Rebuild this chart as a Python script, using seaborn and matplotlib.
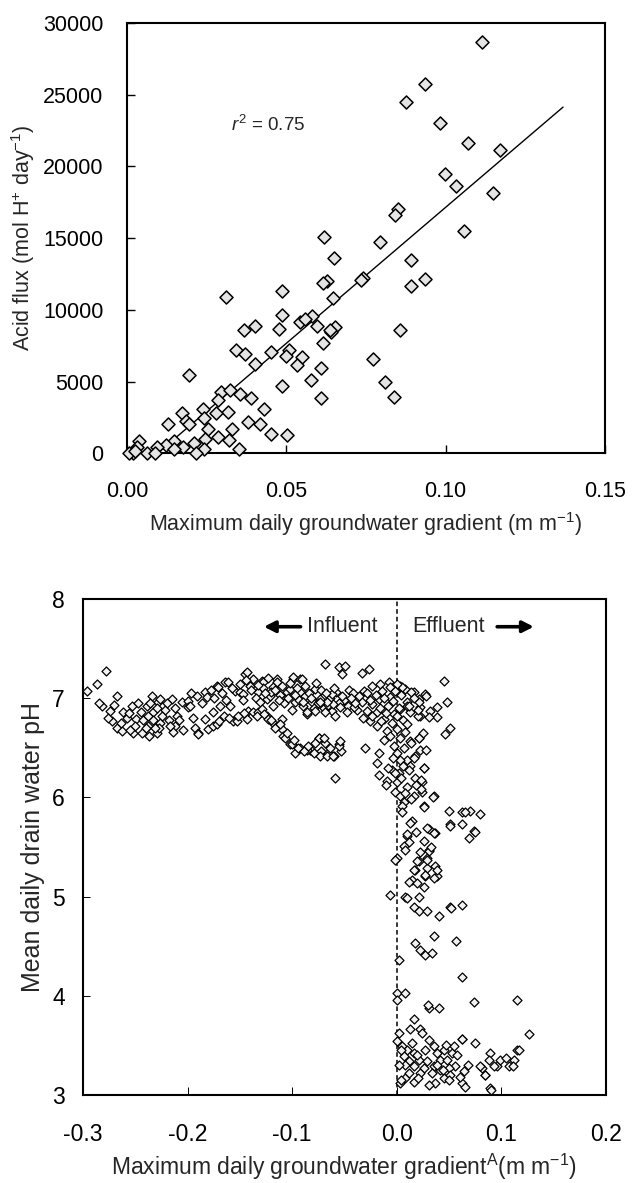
import matplotlib
matplotlib.use("Agg")
import matplotlib.pyplot as plt
import seaborn as sns
import numpy as np
import pandas as pd

# ---------------- data: top panel ----------------
flux_grad = [0.1114, 0.0934, 0.0877, 0.0982, 0.1070, 0.1172, 0.0999, 0.1032, 0.1148, 0.0852,
             0.0842, 0.1057, 0.0618, 0.0794, 0.0649, 0.0890, 0.0741, 0.0734, 0.0937, 0.0629,
             0.0614, 0.0890, 0.0310, 0.0487, 0.0648, 0.0487, 0.0580, 0.0544, 0.0595, 0.0652,
             0.0639, 0.0478, 0.0367, 0.0401, 0.0858, 0.0614, 0.0342, 0.0370, 0.0453, 0.0510,
             0.0500, 0.0548, 0.0772, 0.0401, 0.0534, 0.0610, 0.0194, 0.0576, 0.0810, 0.0487,
             0.0295, 0.0323, 0.0354, 0.0389, 0.0610, 0.0838, 0.0285, 0.0430, 0.0238, 0.0316,
             0.0278, 0.0171, 0.0241, 0.0186, 0.0196, 0.0130, 0.0380, 0.0418, 0.0253, 0.0329,
             0.0452, 0.0503, 0.0285, 0.0244, 0.0320, 0.0038, 0.0148, 0.0211, 0.0123, 0.0095,
             0.0177, 0.0241, 0.0352, 0.0146, 0.0032, 0.0063, 0.0019, 0.0006, 0.0089, 0.0218,
             0.0025, 0.0637, 0.0560]
flux_val = [28630, 25760, 24460, 23020, 21650, 21150, 19480, 18600, 18150, 17030,
            16580, 15490, 15090, 14760, 13620, 13490, 12220, 12095, 12120, 12045,
            11845, 11670, 10870, 11300, 10800, 9630, 9550, 9130, 8850, 8800,
            8480, 8680, 8630, 8850, 8630, 7680, 7180, 6930, 7060, 7230,
            6810, 6730, 6560, 6260, 6140, 5935, 5490, 5140, 4990, 4690,
            4265, 4440, 4115, 3865, 3890, 3940, 3690, 3120, 3070, 2890,
            2820, 2820, 2440, 2240, 2020, 2070, 2195, 2070, 1700, 1700,
            1370, 1250, 1150, 1000, 950, 900, 900, 700, 575, 450,
            450, 300, 300, 325, 450, 0, 0, 0, 0, 0,
            150, 8600, 9350]
fit_x = [0.0095, 0.1369]
fit_y = [0, 24125]
r2_label = r"$\mathit{r}^{2}$ = 0.75"

# ---------------- data: bottom panel ----------------
# far-left cluster (influent)
left_x = [-0.2960, -0.2869, -0.2780, -0.2821, -0.2742, -0.2678, -0.2725, -0.2678, -0.2614, -0.2630,
          -0.2534, -0.2519, -0.2493, -0.2438, -0.2390, -0.2375, -0.2343, -0.2327, -0.2279, -0.2366,
          -0.2295, -0.2263, -0.2151, -0.2103, -0.2056, -0.2120, -0.2263, -0.258, -0.245, -0.240,
          -0.222, -0.218, -0.250, -0.233, -0.214, -0.227,
          -0.285, -0.276, -0.270, -0.264, -0.256, -0.255, -0.247, -0.243, -0.238, -0.236,
          -0.231, -0.229, -0.224, -0.220, -0.217, -0.212, -0.208, -0.204, -0.200, -0.195, -0.193]
left_ph = [7.07, 7.14, 7.27, 6.92, 6.87, 7.02, 6.77, 6.70, 6.86, 6.67,
           6.92, 6.65, 6.79, 6.65, 6.92, 6.72, 7.02, 6.86, 6.96, 6.62,
           6.65, 6.75, 6.99, 6.82, 6.96, 6.72, 6.99, 6.80, 6.86, 6.70,
           6.88, 6.78, 6.72, 6.78, 6.66, 6.70,
           6.95, 6.80, 6.93, 6.75, 6.85, 6.68, 6.95, 6.78, 6.82, 6.95,
           6.70, 6.90, 6.82, 6.95, 6.72, 6.90, 6.78, 6.68, 6.97, 6.80, 6.70]
# upper band (influent)
upper_x = [-0.1992, -0.1976, -0.1912, -0.1833, -0.1816, -0.1721, -0.1705, -0.1689, -0.1641, -0.1610,
           -0.1593, -0.1545, -0.1498, -0.1466, -0.1450, -0.1433, -0.1370, -0.1322, -0.1290, -0.1275,
           -0.1242, -0.1211, -0.1179, -0.1146, -0.1146, -0.1067, -0.1051, -0.1019, -0.0988, -0.0988,
           -0.0971, -0.0923, -0.0923, -0.0876, -0.0809, -0.0780, -0.0732, -0.0684, -0.0656, -0.0557,
           -0.0493, -0.0524, -0.0333, -0.0263, -0.140, -0.135, -0.128, -0.120, -0.112, -0.108,
           -0.095, -0.090, -0.084, -0.079, -0.072, -0.064, -0.058, -0.050, -0.046, -0.070,
           -0.062, -0.118, -0.100, -0.086, -0.0907, -0.0620,
           -0.197, -0.186, -0.178, -0.175, -0.167, -0.163, -0.158, -0.150, -0.147, -0.144,
           -0.139, -0.133, -0.131, -0.126, -0.123, -0.116, -0.113, -0.110, -0.104, -0.102,
           -0.097, -0.093, -0.088, -0.082, -0.077, -0.075, -0.068, -0.066, -0.060, -0.055,
           -0.052, -0.047, -0.042, -0.038]
upper_ph = [6.91, 6.92, 7.02, 7.06, 7.01, 7.12, 7.11, 6.92, 7.16, 7.16,
            6.92, 7.07, 7.06, 7.04, 7.24, 7.26, 7.19, 7.06, 7.17, 7.16,
            6.99, 7.02, 7.11, 7.19, 7.16, 6.99, 7.06, 7.09, 7.19, 7.21,
            6.96, 7.19, 7.06, 7.02, 6.96, 7.09, 6.99, 7.34, 6.92, 7.31,
            7.32, 7.24, 7.25, 7.29, 7.12, 7.00, 7.10, 7.06, 7.03, 6.95,
            7.10, 6.92, 7.05, 6.90, 7.08, 7.00, 7.06, 6.98, 7.08, 6.90,
            6.87, 6.92, 6.88, 6.84, 7.19, 7.04,
            7.05, 6.95, 7.08, 7.00, 7.05, 6.98, 7.10, 7.14, 6.98, 7.18,
            7.08, 7.13, 6.96, 7.05, 7.20, 7.08, 6.98, 7.12, 7.00, 7.15,
            7.03, 6.98, 7.12, 7.00, 7.15, 6.95, 7.05, 6.93, 7.10, 6.95,
            7.02, 6.92, 7.05, 6.88]
# lower band (influent)
lower_x = [-0.1897, -0.1897, -0.1801, -0.1833, -0.1753, -0.1753, -0.1721, -0.1562, -0.1529, -0.1514,
           -0.1433, -0.1418, -0.1370, -0.1322, -0.1290, -0.1242, -0.1227, -0.1179, -0.1146, -0.1099,
           -0.1099, -0.1083, -0.1067, -0.1019, -0.1003, -0.0971, -0.0923, -0.0828, -0.0748, -0.0684,
           -0.0668, -0.0809, -0.0726, -0.0661, -0.0598, -0.0548, -0.0531, -0.0743, -0.0859, -0.0796,
           -0.0732, -0.0668, -0.0605, -0.0557, -0.0541, -0.0700, -0.0589,
           -0.170, -0.165, -0.160, -0.146, -0.134, -0.127, -0.120, -0.116, -0.112, -0.105,
           -0.098, -0.094, -0.089, -0.085, -0.078, -0.064]
lower_ph = [6.65, 6.64, 6.69, 6.79, 6.86, 6.72, 6.74, 6.77, 6.77, 6.82,
            6.79, 6.87, 6.86, 6.86, 6.89, 6.82, 6.79, 6.75, 6.72, 6.79,
            6.69, 6.62, 6.60, 6.54, 6.54, 6.45, 6.50, 6.48, 6.60, 6.55,
            6.43, 6.47, 6.47, 6.45, 6.42, 6.54, 6.47, 6.60, 6.48, 6.45,
            6.42, 6.42, 6.42, 6.52, 6.57, 6.60, 6.20,
            6.77, 6.82, 6.80, 6.85, 6.82, 6.84, 6.78, 6.70, 6.74, 6.65,
            6.58, 6.50, 6.47, 6.52, 6.55, 6.50]
# dense cluster around zero gradient
zero_x = [-0.0318, -0.0237, -0.0158, -0.0078, -0.0142, -0.0062, 0.0033, 0.0081, 0.0161, 0.0273,
          0.0448, 0.0480, 0.0512, 0.0464, 0.0385, 0.0321, 0.0225, 0.0385, 0.0305, 0.0225,
          0.0129, 0.0209, 0.0098, 0.0033, -0.0031, -0.0062, -0.0174, -0.0237, -0.0285, -0.0333,
          -0.0413, -0.0477, -0.0541, -0.0605, -0.0668, -0.0732, -0.0780, -0.0859, -0.0892, -0.0684,
          -0.0589, -0.0189, -0.0126, -0.0189, -0.0254, -0.0301, -0.0094, 0.0002, 0.0033, -0.0031,
          0.0065, 0.0129, 0.0209, 0.0225, 0.0177, 0.0098, 0.0033, -0.0174, -0.0189, -0.0174,
          -0.0094, -0.0046, 0.0018, 0.0002, -0.0014, 0.0033, 0.0065, 0.0129, 0.0177, 0.0257,
          0.0241, 0.0161, 0.0241, 0.0257, 0.0352, 0.0280, 0.0215, 0.0134, 0.0053, 0.0004,
          0.0101, 0.0199, 0.0248, 0.0215, 0.0280, 0.0263, 0.0232, 0.0232, 0.0344, 0.0263,
          0.0134, 0.0053, -0.036, -0.028, -0.020, -0.012, -0.004, 0.004, 0.012, -0.008,
          -0.016, -0.024, -0.032, -0.040, -0.044, -0.010, 0.000, 0.006, -0.005, -0.015,
          0.010, 0.002, -0.026, -0.002, 0.016, 0.020, 0.008, -0.006, 0.014, -0.012,
          0.000, 0.006, -0.004, 0.012, -0.008, 0.004, 0.010, -0.002, 0.016, 0.018,
          0.008, -0.010]
zero_ph = [7.07, 7.12, 7.14, 7.16, 7.07, 7.11, 7.12, 7.09, 7.06, 7.04,
           7.17, 6.96, 6.70, 6.64, 6.91, 6.87, 6.91, 6.81, 6.81, 6.82,
           6.86, 6.99, 6.96, 6.89, 6.84, 7.01, 6.99, 6.94, 6.87, 6.96,
           6.91, 6.86, 6.91, 6.94, 6.96, 6.96, 6.87, 6.86, 6.96, 6.86,
           6.82, 6.86, 6.79, 6.72, 6.77, 6.50, 6.67, 6.69, 6.60, 6.52,
           6.50, 6.57, 6.60, 6.48, 6.42, 6.38, 6.38, 6.45, 6.35, 6.23,
           6.16, 6.28, 6.25, 6.15, 6.05, 6.01, 5.95, 6.32, 6.20, 6.30,
           6.15, 6.01, 6.05, 5.91, 6.01, 7.02, 6.96, 7.06, 7.11, 7.14,
           6.92, 6.82, 6.65, 6.60, 6.48, 6.30, 6.18, 6.08, 6.00, 5.90,
           5.98, 5.91, 7.02, 7.05, 7.03, 7.00, 6.97, 7.03, 6.92, 6.92,
           6.90, 6.82, 6.80, 6.95, 7.00, 6.85, 6.82, 6.78, 6.75, 6.77,
           6.74, 6.90, 6.98, 7.07, 7.00, 6.88, 6.66, 6.62, 6.55, 6.58,
           6.45, 6.32, 6.40, 6.28, 6.30, 6.20, 6.10, 6.25, 6.40, 6.12,
           6.04, 6.12]
# effluent scatter, pH 3.9 - 5.9
mid_x = [0.0145, 0.0496, 0.0624, 0.0703, 0.0512, 0.0624, 0.0735, 0.0687, 0.0098, 0.0065,
         0.0305, 0.0368, 0.0305, 0.0209, 0.0177, 0.0145, 0.0289, 0.0289, 0.0368, 0.0385,
         0.0273, 0.0002, -0.0062, 0.0081, 0.0129, 0.0289, 0.0352, 0.0098, 0.0081, 0.0257,
         0.0305, -0.0014, 0.0289, 0.0193, 0.0161, 0.0113, 0.0193, 0.0273, 0.0385, 0.0352,
         0.0098, 0.0161, 0.0209, 0.0289, 0.0400, 0.0512, 0.0624, 0.0177, 0.0225, 0.0273,
         0.0337, 0.0352, 0.0569, 0.0018, 0.0624, 0.0002, 0.0081, 0.0002, 0.0305, 0.0400,
         0.0735, 0.1150, 0.0507, 0.0653, 0.0793, 0.0751, 0.0523, 0.0297,
         0.005, 0.012, 0.018, 0.022, 0.033, 0.026, 0.021]
mid_ph = [5.76, 5.86, 5.85, 5.86, 5.73, 5.73, 5.66, 5.59, 5.61, 5.51,
          5.68, 5.64, 5.47, 5.36, 5.27, 5.17, 5.39, 5.29, 5.31, 5.21,
          5.21, 5.39, 5.02, 5.00, 5.74, 5.69, 5.64, 5.63, 5.47, 5.56,
          5.46, 5.37, 5.37, 5.36, 5.27, 5.15, 5.14, 5.22, 5.27, 5.19,
          4.99, 4.89, 4.85, 4.85, 4.80, 4.89, 4.92, 4.53, 4.46, 4.41,
          4.43, 4.60, 4.55, 4.36, 4.19, 4.03, 4.03, 3.96, 3.88, 3.88,
          3.94, 3.96, 5.71, 5.85, 5.83, 5.65, 4.88, 3.91,
          5.85, 5.55, 5.65, 5.45, 5.50, 5.10, 5.00]
# effluent low-pH cluster
low_x = [0.0161, 0.0129, 0.0225, 0.0241, 0.0018, 0.0002, 0.0050, 0.0098, 0.0145, 0.0161,
         0.0065, 0.0113, 0.0161, 0.0209, 0.0257, 0.0225, 0.0289, 0.0352, 0.0385, 0.0448,
         0.0416, 0.0480, 0.0528, 0.0544, 0.0624, 0.0560, 0.0496, 0.0416, 0.0352, 0.0337,
         0.0368, 0.0305, 0.0448, 0.0512, 0.0640, 0.0624, 0.0656, 0.0081, 0.0161, 0.0033,
         0.0751, 0.0815, 0.0895, 0.0879, 0.0959, 0.0847, 0.0990, 0.1070, 0.1118, 0.0895,
         0.1150, 0.1260, 0.1172, 0.1043, 0.1108, 0.0929, 0.0848, 0.0799, 0.0897, 0.0621,
         0.004, 0.008, 0.012, 0.019, 0.027, 0.031, 0.038, 0.044, 0.050, 0.058,
         0.060, 0.068, 0.002, 0.004, 0.020, 0.047]
low_ph = [3.77, 3.67, 3.67, 3.62, 3.62, 3.54, 3.49, 3.45, 3.52, 3.42,
          3.39, 3.34, 3.29, 3.35, 3.27, 3.22, 3.34, 3.49, 3.42, 3.45,
          3.35, 3.35, 3.42, 3.49, 3.56, 3.29, 3.27, 3.25, 3.29, 3.22,
          3.12, 3.10, 3.17, 3.20, 3.24, 3.12, 3.08, 3.17, 3.13, 3.12,
          3.52, 3.27, 3.42, 3.35, 3.29, 3.20, 3.35, 3.29, 3.35, 3.07,
          3.45, 3.61, 3.45, 3.37, 3.29, 3.29, 3.20, 3.29, 3.05, 3.56,
          3.45, 3.30, 3.22, 3.40, 3.45, 3.55, 3.30, 3.25, 3.15, 3.40,
          3.18, 3.30, 3.30, 3.15, 3.17, 3.50]

# ---------------- styling ----------------
sns.set_theme(style="ticks")
plt.rcParams["font.family"] = ["Liberation Sans", "DejaVu Sans"]
plt.rcParams["mathtext.fontset"] = "custom"
plt.rcParams["mathtext.rm"] = "Liberation Sans"
plt.rcParams["mathtext.it"] = "Liberation Sans:italic"
plt.rcParams["mathtext.default"] = "regular"
plt.rcParams["axes.unicode_minus"] = False

fig = plt.figure(figsize=(6.32, 11.83), dpi=100)
ax1 = fig.add_axes([0.201, 0.6167, 0.756, 0.3641])
ax2 = fig.add_axes([0.1313, 0.0744, 0.8275, 0.4193])

# top panel
top_df = pd.DataFrame({"grad": flux_grad, "flux": flux_val})
sns.scatterplot(data=top_df, x="grad", y="flux", ax=ax1, marker="D", s=44,
                color="#e4e4e4", edgecolor="black", linewidth=1.1, zorder=3, clip_on=False)
sns.lineplot(x=fit_x, y=fit_y, ax=ax1, color="black", linewidth=1.0, zorder=2)
ax1.set_xlim(0, 0.15)
ax1.set_ylim(0, 30000)
ax1.set_xticks([0.0, 0.05, 0.10, 0.15])
ax1.set_xticklabels(["0.00", "0.05", "0.10", "0.15"])
ax1.set_yticks(range(0, 30001, 5000))
ax1.text(0.0325, 22900, r2_label, fontsize=13.5, va="center", ha="left")
ax1.set_xlabel(r"Maximum daily groundwater gradient (m m$^{-1}$)", fontsize=15.5, labelpad=6)
ax1.set_ylabel(r"Acid flux (mol H$^{+}$ day$^{-1}$)", fontsize=15.5, labelpad=4)

# bottom panel
bottom_df = pd.DataFrame({
    "grad": left_x + upper_x + lower_x + zero_x + mid_x + low_x,
    "ph": left_ph + upper_ph + lower_ph + zero_ph + mid_ph + low_ph,
})
ax2.axvline(0, color="black", linestyle=(0, (3, 2)), linewidth=1.1, zorder=2)
sns.scatterplot(data=bottom_df, x="grad", y="ph", ax=ax2, marker="D", s=21,
                color="#f2f2f2", edgecolor="black", linewidth=0.9, zorder=3)
ax2.set_xlim(-0.3, 0.2)
ax2.set_ylim(3, 8)
ax2.set_xticks([-0.3, -0.2, -0.1, 0.0, 0.1, 0.2])
ax2.set_xticklabels(["-0.3", "-0.2", "-0.1", "0.0", "0.1", "0.2"])
ax2.set_yticks([3, 4, 5, 6, 7, 8])
ax2.set_xlabel(r"Maximum daily groundwater gradient$^{A}$(m m$^{-1}$)", fontsize=16.5, labelpad=4)
ax2.set_ylabel("Mean daily drain water pH", fontsize=18, labelpad=5)

ax2.text(-0.018, 7.72, "Influent", fontsize=15.5, ha="right", va="center")
ax2.text(0.0148, 7.72, "Effluent", fontsize=15.5, ha="left", va="center")
arrow_kw = dict(arrowstyle="-|>,head_length=0.55,head_width=0.28", color="black", lw=2.6,
                shrinkA=0, shrinkB=0)
ax2.annotate("", xy=(-0.127, 7.72), xytext=(-0.092, 7.72), arrowprops=arrow_kw)
ax2.annotate("", xy=(0.131, 7.72), xytext=(0.096, 7.72), arrowprops=arrow_kw)

for ax in (ax1, ax2):
    for sp in ax.spines.values():
        sp.set_visible(True)
        sp.set_color("black")
        sp.set_linewidth(1.5)
    ax.tick_params(direction="in", top=False, right=False, colors="black",
                   width=1.0, length=6, pad=17)
ax1.tick_params(labelsize=15.5)
ax1.tick_params(axis="x", pad=20)
ax2.tick_params(labelsize=16.5)
ax2.tick_params(axis="y", pad=13, length=5, width=0.7)
ax2.tick_params(axis="x", pad=20, length=6, width=0.7)

fig.savefig("out.png", dpi=100)
